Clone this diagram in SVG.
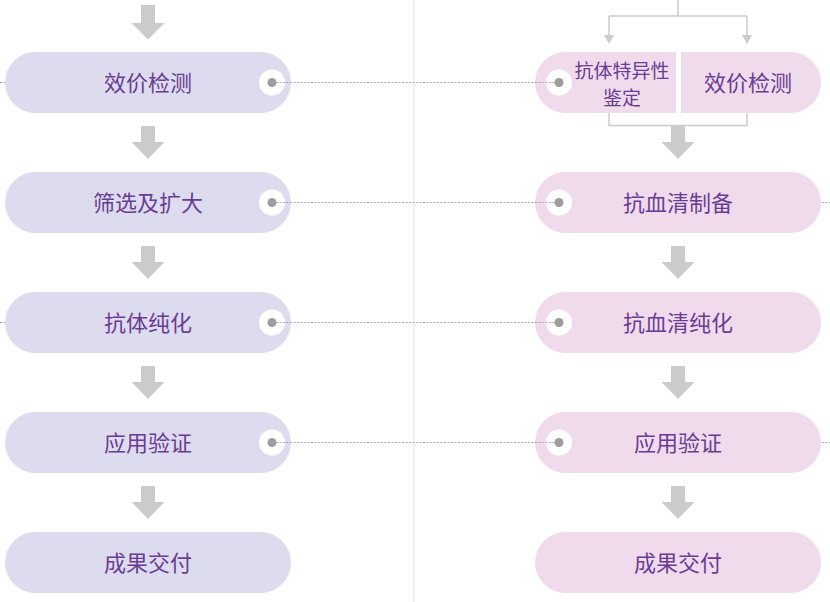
<svg xmlns="http://www.w3.org/2000/svg" xmlns:xlink="http://www.w3.org/1999/xlink" width="830" height="602" viewBox="0 0 830 602">
<style>
.l{fill:#dddcee}
.r{fill:#f0dbec}
.hole{fill:#ffffff}
.dot{fill:#9d9d9d}
.t{font-family:"Noto Sans CJK SC","Noto Sans",sans-serif;font-size:22px;fill:#6a3c94;text-anchor:middle}
.t2{font-family:"Noto Sans CJK SC","Noto Sans",sans-serif;font-size:19px;fill:#6a3c94;text-anchor:middle}
.arr{fill:#cbcbcb}
.dl{stroke:#a8a8a8;stroke-width:1;stroke-dasharray:2 1.5;fill:none}
.br{stroke:#cbcbcb;stroke-width:1.5;fill:none}
</style>
<defs>
<path id="ba" d="M -7 0 H 7 V 16 H 16.5 L 0 33 L -16.5 16 H -7 Z"/>
</defs>
<rect width="830" height="602" fill="#ffffff"/>
<line x1="414" y1="0" x2="414" y2="602" stroke="#e2e2e2" stroke-width="1"/>

<g id="connectors">
<path class="arr" d="M141 5 H155 V23 H164.5 L148 39.5 L131.5 23 H141 Z"/>
<use href="#ba" class="arr" transform="translate(148,126)"/>
<use href="#ba" class="arr" transform="translate(148,246)"/>
<use href="#ba" class="arr" transform="translate(148,366)"/>
<use href="#ba" class="arr" transform="translate(148,486)"/>
<use href="#ba" class="arr" transform="translate(678,126)"/>
<use href="#ba" class="arr" transform="translate(678,246)"/>
<use href="#ba" class="arr" transform="translate(678,366)"/>
<use href="#ba" class="arr" transform="translate(678,486)"/>
<path class="br" d="M678 0 V16 M609 16 H747 M609 16 V36 M747 16 V36"/>
<path fill="#cbcbcb" d="M604 35 H614 L609 44 Z M742 35 H752 L747 44 Z"/>
<path class="br" d="M609 113 V125.5 H747 V113"/>
<line class="dl" x1="0" y1="82.5" x2="6" y2="82.5"/>
<line class="dl" x1="0" y1="322.5" x2="6" y2="322.5"/>
<line class="dl" x1="822" y1="202.5" x2="830" y2="202.5"/>
<line class="dl" x1="822" y1="442.5" x2="830" y2="442.5"/>
</g>

<g id="left1"><rect class="l" x="5" y="52" width="286" height="61" rx="30.5"/><text class="t" x="148" y="90.5">效价检测</text></g>
<g id="left2"><rect class="l" x="5" y="172" width="286" height="61" rx="30.5"/><text class="t" x="148" y="210.5">筛选及扩大</text></g>
<g id="left3"><rect class="l" x="5" y="292" width="286" height="61" rx="30.5"/><text class="t" x="148" y="330.5">抗体纯化</text></g>
<g id="left4"><rect class="l" x="5" y="412" width="286" height="61" rx="30.5"/><text class="t" x="148" y="450.5">应用验证</text></g>
<g id="left5"><rect class="l" x="5" y="532" width="286" height="61" rx="30.5"/><text class="t" x="148" y="570.5">成果交付</text></g>

<g id="right1a"><path class="r" d="M565.5 52 H676 V113 H565.5 A30.5 30.5 0 0 1 565.5 52 Z"/><text class="t2" x="622" y="78">抗体特异性</text><text class="t2" x="622" y="105">鉴定</text></g>
<g id="right1b"><path class="r" d="M681 52 H790.5 A30.5 30.5 0 0 1 790.5 113 H681 Z"/><text class="t" x="748" y="90.5">效价检测</text></g>
<g id="right2"><rect class="r" x="535" y="172" width="286" height="61" rx="30.5"/><text class="t" x="678" y="210.5">抗血清制备</text></g>
<g id="right3"><rect class="r" x="535" y="292" width="286" height="61" rx="30.5"/><text class="t" x="678" y="330.5">抗血清纯化</text></g>
<g id="right4"><rect class="r" x="535" y="412" width="286" height="61" rx="30.5"/><text class="t" x="678" y="450.5">应用验证</text></g>
<g id="right5"><rect class="r" x="535" y="532" width="286" height="61" rx="30.5"/><text class="t" x="678" y="570.5">成果交付</text></g>

<g id="ports">
<circle class="hole" cx="272" cy="82.5" r="13"/><circle class="dot" cx="272" cy="82.5" r="4.5"/>
<circle class="hole" cx="272" cy="202.5" r="13"/><circle class="dot" cx="272" cy="202.5" r="4.5"/>
<circle class="hole" cx="272" cy="322.5" r="13"/><circle class="dot" cx="272" cy="322.5" r="4.5"/>
<circle class="hole" cx="272" cy="442.5" r="13"/><circle class="dot" cx="272" cy="442.5" r="4.5"/>
<circle class="hole" cx="559" cy="82.5" r="13"/><circle class="dot" cx="559" cy="82.5" r="4.5"/>
<circle class="hole" cx="559" cy="202.5" r="13"/><circle class="dot" cx="559" cy="202.5" r="4.5"/>
<circle class="hole" cx="559" cy="322.5" r="13"/><circle class="dot" cx="559" cy="322.5" r="4.5"/>
<circle class="hole" cx="559" cy="442.5" r="13"/><circle class="dot" cx="559" cy="442.5" r="4.5"/>
</g>
<g id="links">
<line class="dl" x1="276" y1="82.5" x2="555" y2="82.5"/>
<line class="dl" x1="276" y1="202.5" x2="555" y2="202.5"/>
<line class="dl" x1="276" y1="322.5" x2="555" y2="322.5"/>
<line class="dl" x1="276" y1="442.5" x2="555" y2="442.5"/>
</g>
</svg>
